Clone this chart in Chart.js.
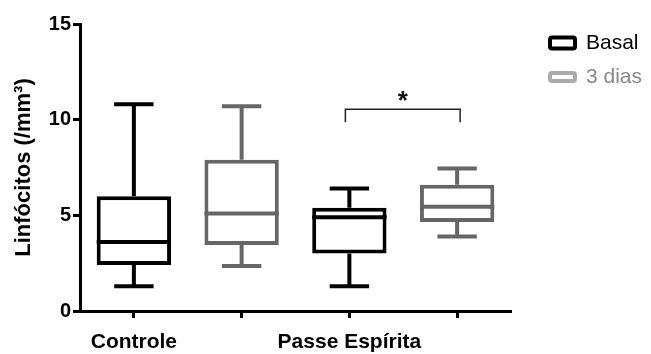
<!DOCTYPE html>
<html>
<head>
<meta charset="utf-8">
<script src="https://cdn.jsdelivr.net/npm/chart.js@4.4.1/dist/chart.umd.min.js"></script>
<style>
  html, body { margin: 0; padding: 0; background: #fff; }
  #wrap { width: 651px; height: 354px; }
</style>
</head>
<body>
<div id="wrap"><canvas id="chart"></canvas></div>
<script>
  // tick positions: one per box, group names under the Basal box
  const categories = ['Controle', '', 'Passe Espírita', ''];
  const yTicks = [0, 5, 10, 15];

  // Basal (black)
  const basalMin = [1.3, null, 1.3, null];
  const basalQ1 = [2.4, null, 3.0, null];
  const basalMedian = [3.6, null, 4.9, null];
  const basalQ3 = [6.0, null, 5.4, null];
  const basalMax = [10.8, null, 6.4, null];

  // 3 dias (gray)
  const diasMin = [null, 2.35, null, 3.9];
  const diasQ1 = [null, 3.45, null, 4.65];
  const diasMedian = [null, 5.1, null, 5.45];
  const diasQ3 = [null, 7.9, null, 6.6];
  const diasMax = [null, 10.7, null, 7.45];

  // significance bracket between Passe Espírita boxes
  const sigPair = [2, 3];
  const sigLevel = 10.55;
  const sigText = '*';

  const FONT = 'Arial, "Liberation Sans", sans-serif';
  const LINE = 4;

  function boxes(q1, q3) {
    return q1.map((v, i) => (v == null ? null : [v, q3[i]]));
  }

  const datasets = [
    {
      label: 'Basal',
      data: boxes(basalQ1, basalQ3),
      mins: basalMin, medians: basalMedian, maxs: basalMax,
      borderColor: '#000',
      legendColor: '#000',
      legendText: '#000',
      legendH: 11
    },
    {
      label: '3 dias',
      data: boxes(diasQ1, diasQ3),
      mins: diasMin, medians: diasMedian, maxs: diasMax,
      borderColor: '#666',
      legendColor: '#aaa',
      legendText: '#888',
      legendH: 8
    }
  ].map(ds => Object.assign(ds, {
    backgroundColor: '#fff',
    borderWidth: LINE,
    borderSkipped: false,
    grouped: false,
    categoryPercentage: 1,
    barPercentage: 0.69
  }));

  // whiskers behind the boxes, median lines on top
  const boxPlot = {
    id: 'boxPlot',
    beforeDatasetsDraw(chart) {
      const ctx = chart.ctx;
      const y = chart.scales.y;
      chart.data.datasets.forEach((ds, d) => {
        const meta = chart.getDatasetMeta(d);
        meta.data.forEach((bar, i) => {
          if (ds.data[i] == null) return;
          const cx = bar.x;
          const cap = bar.width * 0.53;
          const yMax = y.getPixelForValue(ds.maxs[i]);
          const yMin = y.getPixelForValue(ds.mins[i]);
          ctx.save();
          ctx.strokeStyle = ds.borderColor;
          ctx.lineWidth = LINE;
          ctx.beginPath();
          ctx.moveTo(cx, yMax);
          ctx.lineTo(cx, y.getPixelForValue(ds.data[i][1]));
          ctx.moveTo(cx, yMin);
          ctx.lineTo(cx, y.getPixelForValue(ds.data[i][0]));
          ctx.moveTo(cx - cap / 2, yMax);
          ctx.lineTo(cx + cap / 2, yMax);
          ctx.moveTo(cx - cap / 2, yMin);
          ctx.lineTo(cx + cap / 2, yMin);
          ctx.stroke();
          ctx.restore();
        });
      });
    },
    afterDatasetsDraw(chart) {
      const ctx = chart.ctx;
      const x = chart.scales.x;
      const y = chart.scales.y;
      chart.data.datasets.forEach((ds, d) => {
        const meta = chart.getDatasetMeta(d);
        meta.data.forEach((bar, i) => {
          if (ds.data[i] == null) return;
          const my = y.getPixelForValue(ds.medians[i]);
          ctx.save();
          ctx.strokeStyle = ds.borderColor;
          ctx.lineWidth = LINE;
          ctx.beginPath();
          ctx.moveTo(bar.x - bar.width / 2, my);
          ctx.lineTo(bar.x + bar.width / 2, my);
          ctx.stroke();
          ctx.restore();
        });
      });

      // significance bracket
      const x1 = x.getPixelForValue(sigPair[0]) - 4;
      const x2 = x.getPixelForValue(sigPair[1]) + 3;
      const top = y.getPixelForValue(sigLevel);
      ctx.save();
      ctx.strokeStyle = '#222';
      ctx.lineWidth = 1.5;
      ctx.beginPath();
      ctx.moveTo(x1, top + 13);
      ctx.lineTo(x1, top);
      ctx.lineTo(x2, top);
      ctx.lineTo(x2, top + 13);
      ctx.stroke();
      ctx.fillStyle = '#111';
      ctx.font = 'bold 26px ' + FONT;
      ctx.textAlign = 'center';
      ctx.textBaseline = 'middle';
      ctx.fillText(sigText, (x1 + x2) / 2, top - 7);
      ctx.restore();
    }
  };

  // legend box on the right
  const sideLegend = {
    id: 'sideLegend',
    afterDraw(chart) {
      const ctx = chart.ctx;
      chart.data.datasets.forEach((ds, i) => {
        const cy = 43 + i * 34;
        ctx.save();
        ctx.strokeStyle = ds.legendColor;
        ctx.lineWidth = 4;
        ctx.beginPath();
        ctx.roundRect(550, cy - ds.legendH / 2, 25, ds.legendH, 2);
        ctx.stroke();
        ctx.fillStyle = ds.legendText;
        ctx.font = '21px ' + FONT;
        ctx.textBaseline = 'middle';
        ctx.fillText(ds.label, 586, cy);
        ctx.restore();
      });
    }
  };

  new Chart(document.getElementById('chart'), {
    type: 'bar',
    data: { labels: categories, datasets },
    options: {
      responsive: true,
      maintainAspectRatio: false,
      animation: false,
      layout: { padding: { top: 24, right: 140, left: 0, bottom: 0 } },
      scales: {
        x: {
          type: 'category',
          offset: true,
          border: { color: '#000', width: 3 },
          grid: { offset: false, drawOnChartArea: false, tickLength: 7, tickWidth: 3, tickColor: '#000' },
          ticks: {
            color: '#000',
            autoSkip: false,
            maxRotation: 0,
            padding: 12,
            font: { family: FONT, size: 21, weight: 'bold' }
          },
          afterFit: s => { s.height = 43; }
        },
        y: {
          min: 0,
          max: 15,
          afterBuildTicks: s => { s.ticks = yTicks.map(v => ({ value: v })); },
          border: { color: '#000', width: 3 },
          grid: { drawOnChartArea: false, tickLength: 7, tickWidth: 3, tickColor: '#000' },
          ticks: {
            color: '#000',
            padding: 2,
            font: { family: FONT, size: 20, weight: 'bold' }
          },
          title: {
            display: true,
            text: 'Linfócitos (/mm³)',
            color: '#000',
            padding: { top: 11, bottom: 0 },
            font: { family: FONT, size: 22, weight: 'bold' }
          },
          afterFit: s => { s.width = 80; }
        }
      },
      plugins: {
        legend: { display: false },
        tooltip: { enabled: false }
      }
    },
    plugins: [boxPlot, sideLegend]
  });
</script>
</body>
</html>
